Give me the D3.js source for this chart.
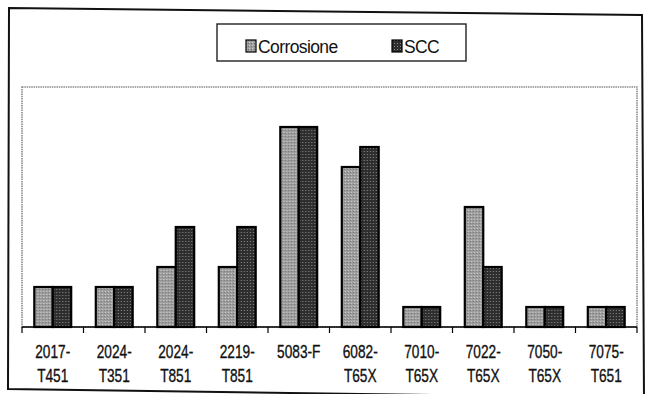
<!DOCTYPE html>
<html>
<head>
<meta charset="utf-8">
<script src="https://cdn.jsdelivr.net/npm/d3@7"></script>
<style>
  html, body { margin: 0; padding: 0; background: #fff; }
  svg { display: block; }
  text { font-family: "Liberation Sans", Arial, sans-serif; fill: #111; }
</style>
</head>
<body>
<svg id="chart" width="646" height="394"></svg>
<script>
// Alloy tempers on the category axis, two lines per label
const categories = ["2017-T451", "2024-T351", "2024-T851", "2219-T851", "5083-F",
                    "6082-T65X", "7010-T65X", "7022-T65X", "7050-T65X", "7075-T651"];
const labelLines = [["2017-", "T451"], ["2024-", "T351"], ["2024-", "T851"], ["2219-", "T851"], ["5083-F"],
                    ["6082-", "T65X"], ["7010-", "T65X"], ["7022-", "T65X"], ["7050-", "T65X"], ["7075-", "T651"]];
const seriesNames = ["Corrosione", "SCC"];
const corrosione = [2, 2, 3, 3, 10, 8, 1, 6, 1, 1];
const scc        = [2, 2, 5, 5, 10, 9, 1, 3, 1, 1];
const yMax = 12;

const svg = d3.select("#chart");

// textures for the two series
const defs = svg.append("defs");
const pLight = defs.append("pattern").attr("id", "fillLight")
  .attr("width", 3).attr("height", 3).attr("patternUnits", "userSpaceOnUse");
pLight.append("rect").attr("width", 3).attr("height", 3).attr("fill", "#9e9e9e");
pLight.append("rect").attr("x", 0).attr("y", 0).attr("width", 1).attr("height", 1).attr("fill", "#cfcfcf");
pLight.append("rect").attr("x", 2).attr("y", 1).attr("width", 1).attr("height", 1).attr("fill", "#737373");
const pDark = defs.append("pattern").attr("id", "fillDark")
  .attr("width", 3).attr("height", 3).attr("patternUnits", "userSpaceOnUse");
pDark.append("rect").attr("width", 3).attr("height", 3).attr("fill", "#2e2e2e");
pDark.append("rect").attr("x", 1).attr("y", 1).attr("width", 1).attr("height", 1).attr("fill", "#8a8a8a");
const fills = ["url(#fillLight)", "url(#fillDark)"];

// outer chart frame (slightly skewed)
svg.append("path")
  .attr("d", "M9,8 L642,15 L644,398 L8,389 Z")
  .attr("fill", "none").attr("stroke", "#111").attr("stroke-width", 2);

const plot = { left: 22, right: 637, top: 87, bottom: 327 };

const x = d3.scaleBand().domain(categories)
  .range([plot.left, plot.right]).paddingInner(0.4).paddingOuter(0.2);
const xs = d3.scaleBand().domain(seriesNames).range([0, x.bandwidth()]);
const y = d3.scaleLinear().domain([0, yMax]).range([plot.bottom, plot.top]);

// plot area border
svg.append("rect")
  .attr("x", plot.left).attr("y", plot.top)
  .attr("width", plot.right - plot.left).attr("height", plot.bottom - plot.top)
  .attr("fill", "none").attr("stroke", "#8a8a8a").attr("stroke-width", 1.6)
  .attr("stroke-dasharray", "1.5,0.8");

// bars
const rows = categories.map((c, i) => ({ cat: c, vals: [corrosione[i], scc[i]] }));
const groups = svg.append("g").selectAll("g").data(rows).join("g")
  .attr("transform", d => `translate(${x(d.cat)},0)`);
groups.selectAll("rect")
  .data(d => d.vals.map((v, j) => ({ name: seriesNames[j], v, j })))
  .join("rect")
  .attr("x", d => xs(d.name))
  .attr("y", d => y(d.v))
  .attr("width", xs.bandwidth())
  .attr("height", d => y(0) - y(d.v))
  .attr("fill", d => fills[d.j])
  .attr("stroke", "#000").attr("stroke-width", 2.2);

// category axis: baseline with ticks at category boundaries
const axisG = svg.append("g");
axisG.append("line")
  .attr("x1", plot.left).attr("x2", plot.right)
  .attr("y1", y(0)).attr("y2", y(0))
  .attr("stroke", "#000").attr("stroke-width", 1.6);
const bounds = d3.range(categories.length + 1).map(k => x.range()[0] + k * x.step());
axisG.selectAll("line.tick").data(bounds).join("line").attr("class", "tick")
  .attr("x1", d => d).attr("x2", d => d)
  .attr("y1", y(0)).attr("y2", y(0) + 6)
  .attr("stroke", "#000").attr("stroke-width", 1.2);

// category labels
const lab = axisG.selectAll("g.lab").data(categories).join("g").attr("class", "lab");
lab.each(function (c, i) {
  const cx = x(c) + x.bandwidth() / 2;
  labelLines[i].forEach((line, k) => {
    d3.select(this).append("text")
      .attr("transform", `translate(${cx},${358 + k * 24}) scale(0.76,1)`)
      .attr("text-anchor", "middle")
      .attr("font-size", 18)
      .attr("stroke", "#111").attr("stroke-width", 0.35)
      .text(line);
  });
});

// legend
const legend = svg.append("g");
legend.append("rect")
  .attr("x", 217).attr("y", 24).attr("width", 249).attr("height", 37)
  .attr("fill", "#fff").attr("stroke", "#222").attr("stroke-width", 1.4);
const legendItems = [{ name: seriesNames[0], x: 246 }, { name: seriesNames[1], x: 392 }];
legendItems.forEach((it, j) => {
  legend.append("rect")
    .attr("x", it.x).attr("y", 40).attr("width", 10).attr("height", 12)
    .attr("fill", fills[j]).attr("stroke", "#000").attr("stroke-width", 1.2);
  legend.append("text")
    .attr("x", it.x + 12).attr("y", 53)
    .attr("font-size", 17.5)
    .attr("letter-spacing", -0.6)
    .text(it.name);
});
</script>
</body>
</html>
